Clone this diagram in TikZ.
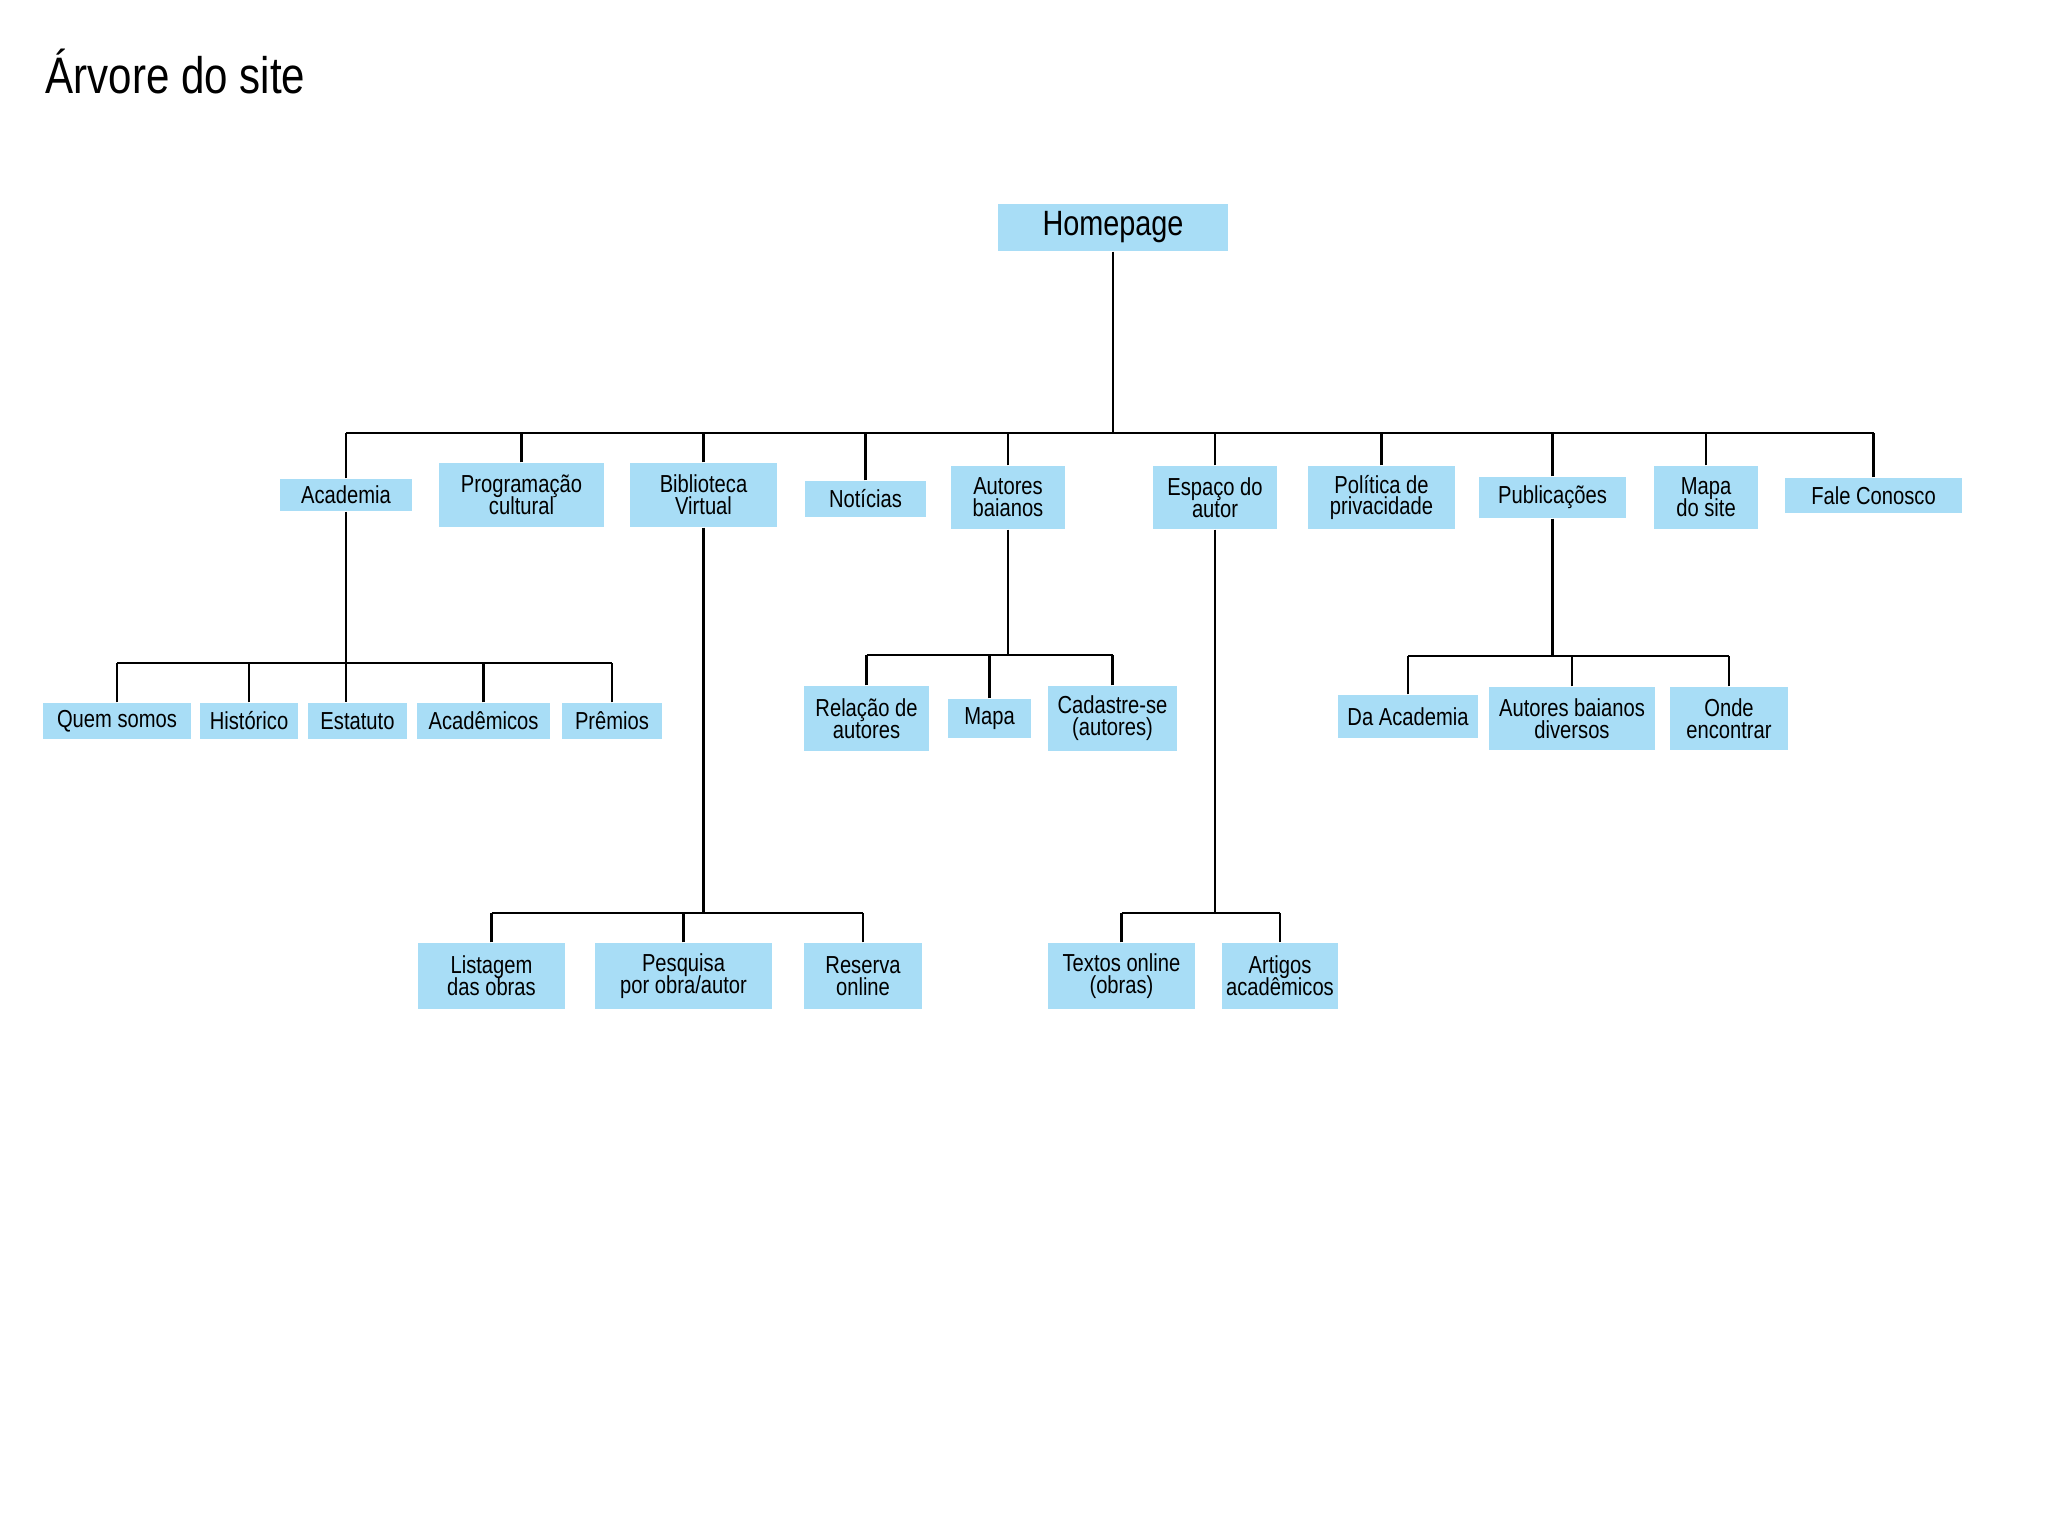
\documentclass[tikz,border=0pt]{standalone}
\usepackage{fontspec}
\setmainfont[FakeStretch=0.82]{Liberation Sans}
\usetikzlibrary{positioning}
\definecolor{pageblue}{RGB}{168,221,246}
\newcommand\boxfont{\fontsize{7}{6.2}\selectfont\lineskiplimit=-10pt\relax}
\tikzset{
  sitebox/.style ={fill=pageblue, align=center, inner sep=0pt,
                   font=\boxfont},
  homebox/.style ={fill=pageblue, align=center, inner sep=0pt,
                   minimum width=23mm, minimum height=4.7mm,
                   font=\fontsize{10}{12}\selectfont},
  wire/.style    ={line width=0.75pt, black},
}

\begin{document}
\begin{tikzpicture}[x=0.1mm, y=-0.1mm]
  \fill[white] (0,0) rectangle (2048,1536);
  \useasboundingbox (0,0) rectangle (2048,1536);

  \node[anchor=base west, inner sep=0pt, font=\fontsize{14.6}{16}\selectfont]
       (title) at (45,93) {Árvore do site};

  \node[homebox] (home) at (1113,227.5) {Homepage};

  % first level
  \node[sitebox, minimum width=13.2mm, minimum height=3.2mm] (acad) at (346,495)    {Academia};
  \node[sitebox, minimum width=16.5mm, minimum height=6.4mm] (prog) at (521.5,495)  {Programação\\cultural};
  \node[sitebox, minimum width=14.7mm, minimum height=6.4mm] (bibl) at (703.5,495)  {Biblioteca\\Virtual};
  \node[sitebox, minimum width=12.1mm, minimum height=3.6mm] (noti) at (865.5,499)  {Notícias};
  \node[sitebox, minimum width=11.4mm, minimum height=6.3mm] (autb) at (1008,497.5) {Autores\\baianos};
  \node[sitebox, minimum width=12.4mm, minimum height=6.3mm] (espa) at (1215,497.5) {Espaço do\\autor};
  \node[sitebox, minimum width=14.7mm, minimum height=6.3mm] (poli) at (1381.5,497.5) {Política de\\privacidade};
  \node[sitebox, minimum width=14.7mm, minimum height=4.1mm] (publ) at (1552.5,497.5) {Publicações};
  \node[sitebox, minimum width=10.4mm, minimum height=6.3mm] (msit) at (1706,497.5) {Mapa\\do site};
  \node[sitebox, minimum width=17.7mm, minimum height=3.5mm] (fale) at (1873.5,495.5) {Fale Conosco};

  % under Academia
  \node[sitebox, minimum width=14.8mm, minimum height=3.6mm] (quem) at (117,721)   {Quem somos};
  \node[sitebox, minimum width=9.8mm,  minimum height=3.6mm] (hist) at (249,721)   {Histórico};
  \node[sitebox, minimum width=9.9mm,  minimum height=3.6mm] (esta) at (357.5,721) {Estatuto};
  \node[sitebox, minimum width=13.3mm, minimum height=3.6mm] (acdm) at (483.5,721) {Acadêmicos};
  \node[sitebox, minimum width=10mm,   minimum height=3.6mm] (prem) at (612,721)   {Prêmios};

  % under Autores baianos
  \node[sitebox, minimum width=12.5mm, minimum height=6.5mm] (rela) at (866.5,718.5)  {Relação de\\autores};
  \node[sitebox, minimum width=8.3mm,  minimum height=3.9mm] (mapa) at (989.5,718.5)  {Mapa};
  \node[sitebox, minimum width=12.9mm, minimum height=6.5mm] (cada) at (1112.5,718.5) {Cadastre-se\\(autores)};

  % under Publicações
  \node[sitebox, minimum width=14mm,   minimum height=4.3mm] (daac) at (1408,716.5) {Da Academia};
  \node[sitebox, minimum width=16.6mm, minimum height=6.3mm] (abdv) at (1572,718.5) {Autores baianos\\diversos};
  \node[sitebox, minimum width=11.8mm, minimum height=6.3mm] (onde) at (1729,718.5) {Onde\\encontrar};

  % under Biblioteca Virtual and Espaço do autor
  \node[sitebox, minimum width=14.7mm, minimum height=6.6mm] (list) at (491.5,976)  {Listagem\\das obras};
  \node[sitebox, minimum width=17.7mm, minimum height=6.6mm] (pesq) at (683.5,976)  {Pesquisa\\por obra/autor};
  \node[sitebox, minimum width=11.8mm, minimum height=6.6mm] (rese) at (863,976)    {Reserva\\online};
  \node[sitebox, minimum width=14.7mm, minimum height=6.6mm] (txto) at (1121.5,976) {Textos online\\(obras)};
  \node[sitebox, minimum width=11.6mm, minimum height=6.6mm] (arti) at (1280,976)   {Artigos\\acadêmicos};

  % bus heights
  \coordinate (lv1) at (0,433);
  \coordinate (lva) at (0,663);
  \coordinate (lvb) at (0,655);
  \coordinate (lvp) at (0,656);
  \coordinate (lv3) at (0,913);

  \draw[wire] (home.south) -- (home.south |- lv1);
  \draw[wire] (acad.north |- lv1) -- (fale.north |- lv1);
  \foreach \n in {acad,prog,bibl,noti,autb,espa,poli,publ,msit,fale}
    \draw[wire] (\n.north) -- (\n.north |- lv1);

  \draw[wire] (acad.south) -- (acad.south |- esta.north);
  \draw[wire] (quem.north |- lva) -- (prem.north |- lva);
  \foreach \n in {quem,hist,acdm,prem}
    \draw[wire] (\n.north) -- (\n.north |- lva);

  \draw[wire] (autb.south) -- (autb.south |- lvb);
  \draw[wire] (rela.north |- lvb) -- (cada.north |- lvb);
  \foreach \n in {rela,mapa,cada}
    \draw[wire] (\n.north) -- (\n.north |- lvb);

  \draw[wire] (publ.south) -- (publ.south |- lvp);
  \draw[wire] (daac.north |- lvp) -- (onde.north |- lvp);
  \foreach \n in {daac,abdv,onde}
    \draw[wire] (\n.north) -- (\n.north |- lvp);

  \draw[wire] (bibl.south) -- (bibl.south |- lv3);
  \draw[wire] (list.north |- lv3) -- (rese.north |- lv3);
  \foreach \n in {list,pesq,rese}
    \draw[wire] (\n.north) -- (\n.north |- lv3);

  \draw[wire] (espa.south) -- (espa.south |- lv3);
  \draw[wire] (txto.north |- lv3) -- (arti.north |- lv3);
  \foreach \n in {txto,arti}
    \draw[wire] (\n.north) -- (\n.north |- lv3);
\end{tikzpicture}
\end{document}
